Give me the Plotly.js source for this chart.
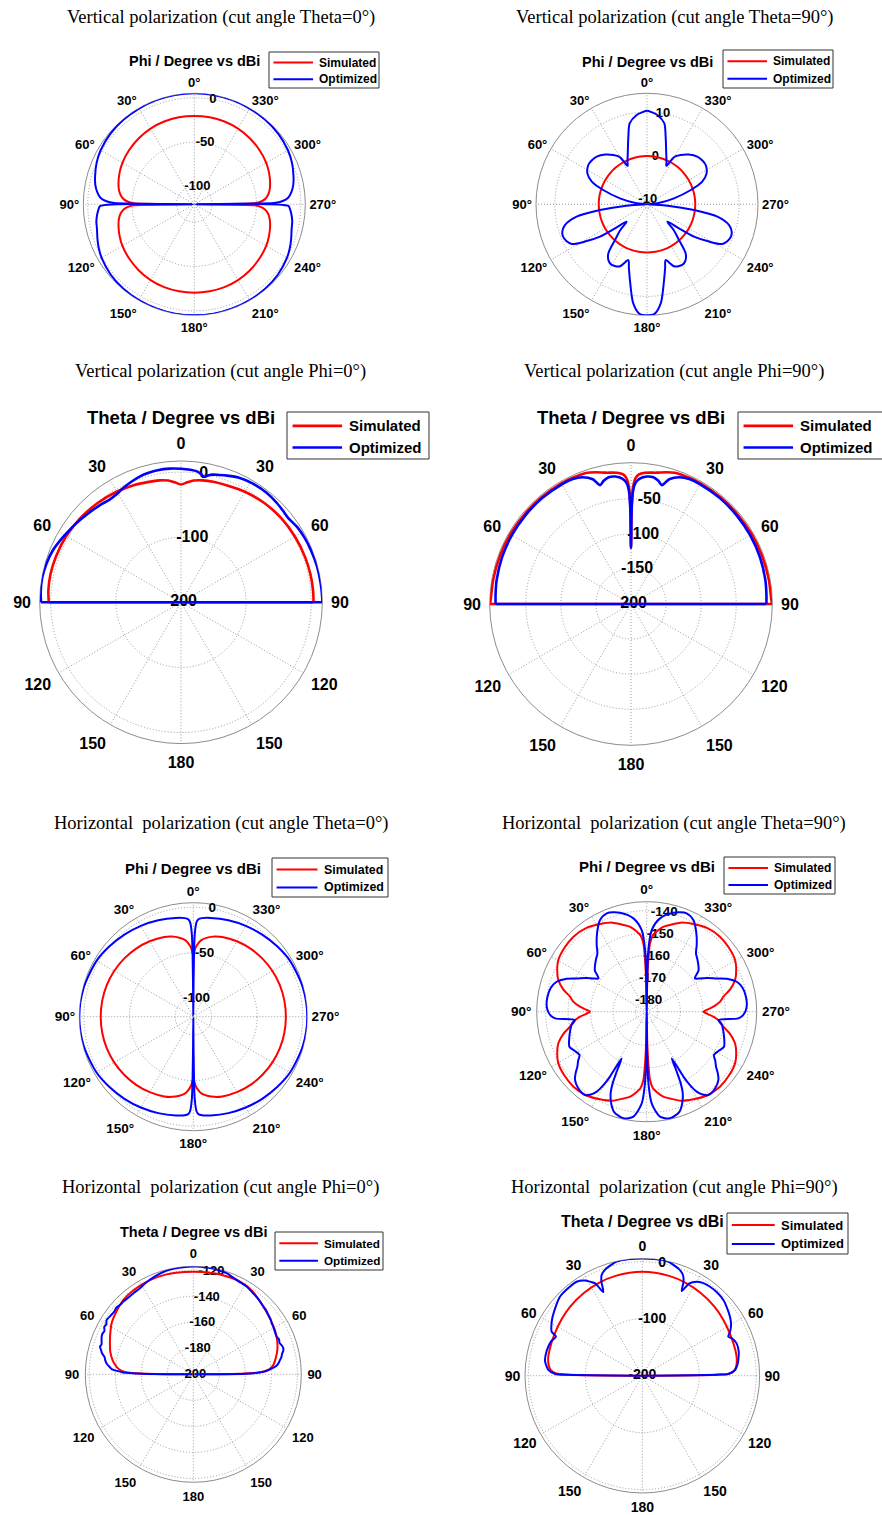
<!DOCTYPE html>
<html>
<head>
<meta charset="utf-8">
<script src="https://cdn.plot.ly/plotly-3.0.1.min.js"></script>
<style>
  html, body { margin: 0; padding: 0; background: #ffffff; }
  #chart { width: 882px; height: 1515px; }
</style>
</head>
<body>
<div id="chart"></div>
<script>
// ---------- angular tick labels ----------
const angleTicks = [0, 30, 60, 90, 120, 150, 180, 210, 240, 270, 300, 330];
const phiLabels = ['0°', '30°', '60°', '90°', '120°', '150°', '180°', '210°', '240°', '270°', '300°', '330°'];
const thetaLabels = ['0', '30', '60', '90', '120', '150', '180', '150', '120', '90', '60', '30'];

// ---------- series names ----------
const seriesNames = ['Simulated', 'Optimized'];

// ---------- radial tick values ----------
const p1Ticks = [-100, -50, 0];
const p2Ticks = [-10, 0, 10];
const p3Ticks = [-200, -100, 0];
const p4Ticks = [-200, -150, -100, -50];
const p5Ticks = [-100, -50, 0];
const p6Ticks = [-180, -170, -160, -150, -140];
const p7Ticks = [-200, -180, -160, -140, -120];
const p8Ticks = [-200, -100, 0];

// ---------- Vertical polarization, Theta = 0° cut (phi sweep) ----------
const p1SimPhi = [0,10,20,30,40,50,60,67,74,79,83,86,88,89,90,91,92,94,97,101,106,113,120,130,140,150,160,170,180,190,200,210,220,230,240,247,254,259,263,266,268,269,270,271,272,274,277,281,286,293,300,310,320,330,340,350,360];
const p1SimDb = [-20.5,-20.5,-20.8,-21.5,-22.8,-24.5,-26.5,-28.6,-31.2,-33.5,-36.5,-40.5,-46,-52,-118,-52,-46,-40.5,-36.5,-33.5,-31.2,-28.6,-26.5,-24.5,-22.8,-21.5,-20.8,-20.5,-20.5,-20.5,-20.8,-21.5,-22.8,-24.5,-26.5,-28.6,-31.2,-33.5,-36.5,-40.5,-46,-52,-118,-52,-46,-40.5,-36.5,-33.5,-31.2,-28.6,-26.5,-24.5,-22.8,-21.5,-20.8,-20.5,-20.5];
const p1OptPhi = [0,10,20,30,40,50,60,67,74,79,83,86,88,89,90,91,93,96,100,104,110,115,120,130,140,150,160,170,180,190,200,210,220,230,240,245,250,256,260,264,267,269,270,271,272,274,277,281,286,293,300,310,320,330,340,350,360];
const p1OptDb = [5,5,4.8,4.5,4.2,3.5,1.8,-0.5,-3.8,-6.5,-10,-14,-21,-30,-118,-14,-12,-10,-8,-7,-4,-1.5,0.5,3,4.2,4.6,4.8,5,5,5,4.8,4.6,4.2,3,0.5,-1.5,-4,-7,-8,-10,-12,-14,-118,-30,-21,-14,-10,-6.5,-3.8,-0.5,1.8,3.5,4.2,4.5,4.8,5,5];

// ---------- Vertical polarization, Theta = 90° cut (phi sweep) ----------
const p2SimPhi = [0,10,20,30,40,50,60,70,80,90,100,110,120,130,140,150,160,170,180,190,200,210,220,230,240,250,260,270,280,290,300,310,320,330,340,350,360];
const p2SimDb = [0,0,0,0,0,0,0,0,0,0,0,0,0,0,0,0,0,0,0,0,0,0,0,0,0,0,0,0,0,0,0,0,0,0,0,0,0];
const p2OptPhi = [0,3,6.6,12,15.4,20.7,25,26.7,30,34.3,40,46.5,52,56.2,62.6,67.7,71.9,77.5,84.5,90,93.8,96.9,99.9,104.2,108,111.1,114.5,117.8,121,124.5,126.9,130.4,134,138.1,141.7,145.5,149.8,156.4,161.5,164,167.3,172.1,176.3,180,
  183.7,187.9,192.7,196,198.5,203.6,210.2,214.5,218.3,221.9,226,229.6,233.1,235.5,239,242.2,245.5,248.9,252,255.8,260.1,263.1,266.2,270,275.5,282.5,288.1,292.3,297.4,303.8,308,313.5,320,325.7,330,333.3,335,339.3,344.6,348,353.4,357,360];
const p2OptDb = [10.3,10,9.5,7.9,5,1.4,-0.5,-1.2,1.5,2.6,3.8,4.8,5.1,5.1,4.3,2.6,-0.5,-4.7,-8.6,-11,-6.3,-0.2,5.3,8.3,9.3,9.5,9.2,8.4,5.5,2,-1.9,-4.9,-2.5,-0.1,3.2,4.5,5,4.4,2.4,4,6.7,11.8,14.1,14.3,
  14.1,11.8,6.7,4,2.4,4.4,5,4.5,3.2,-0.1,-2.5,-4.9,-1.9,2,5.5,8.4,9.2,9.5,9.3,8.3,5.3,-0.2,-6.3,-11,-8.6,-4.7,-0.5,2.6,4.3,5.1,5.1,4.8,3.8,2.6,1.5,-1.2,-0.5,1.4,5,7.9,9.5,10,10.3];

// ---------- Vertical polarization, Phi = 0° cut (theta sweep) ----------
const p3SimTheta = [-90,-85,-78,-70,-60,-50,-40,-30,-22,-15,-10,-6,-3,0,3,6,10,15,22,30,40,50,60,70,78,85,90];
const p3SimDb = [3,4.5,5,4.5,3.5,1.5,-1,-3.5,-6,-8.5,-9.8,-12,-15.5,-19,-15.5,-12,-9.8,-8.5,-7,-4,-1,1,2,2.8,3.4,3.6,3.6];
const p3OptTheta = [-90,-86,-80,-74,-68,-63,-59,-53,-47,-40,-35,-31,-27,-22,-18,-14,-10,-5,0,4,7,9,10.5,12,14,16,20,25,31,38,44,48,52,57,62,68,75,82,88,90];
const p3OptDb = [15,16,16.5,15,12.4,8.5,5.4,1.5,-2.3,-5.5,-8,-7,-3.4,0.5,3.4,5,6,6,5,4,2.5,-1,-4,-1,2,3.5,7,11,13,13.4,12,10.5,9.5,12.5,14,15,16,16.5,17,17];

// ---------- Vertical polarization, Phi = 90° cut (theta sweep) ----------
const p4SimTheta = [-90,-88,-80,-70,-60,-50,-40,-30,-25,-19,-15,-11,-6,-3.5,-2,-1,-0.4,0,0.4,1,2,3.5,6,11,15,19,25,30,40,50,60,70,80,88,90];
const p4SimDb = [1,0,-0.5,-1,-1.2,-1.5,-1.5,-1.5,-1.8,-2.5,-5.5,-9.3,-12,-15,-21,-33,-60,-120,-60,-33,-21,-15,-12,-9.3,-5.5,-2.5,-1.8,-1.5,-1.5,-1.5,-1.2,-1,-0.5,0,1];
const p4OptTheta = [-90,-86,-80,-70,-60,-50,-40,-30,-25,-21,-17,-14.5,-12.5,-10,-7,-4,-2,-1,-0.4,0,0.4,1,2,4,7,10,12.5,14.5,17,21,25,30,40,50,60,70,80,86,90];
const p4OptDb = [-7,-6.5,-5.5,-4.5,-4,-3.5,-3,-3,-3.5,-6.5,-14,-25,-20,-16.5,-17,-21,-28,-40,-65,-120,-65,-40,-28,-21,-17,-16.5,-20,-25,-14,-6.5,-3.5,-3,-3,-3.5,-4,-4.5,-5.5,-6.5,-7];

// ---------- Horizontal polarization, Theta = 0° cut (phi sweep) ----------
const p5SimPhi = [0,1,2,4,6,10,15,20,30,40,50,60,70,80,90,100,110,120,130,140,150,160,165,170,174,176,178,179,180,181,182,184,186,190,195,200,210,220,230,240,250,260,270,280,290,300,310,320,330,340,345,350,354,356,358,359,360];
const p5SimDb = [-52,-48,-44,-39,-35.5,-32,-29,-27,-24.5,-22.5,-21,-19.8,-19,-18.6,-18.5,-18.6,-19,-19.8,-21,-22.5,-24.5,-27,-29,-32,-35.5,-39,-44,-48,-52,-48,-44,-39,-35.5,-32,-29,-27,-24.5,-22.5,-21,-19.8,-19,-18.6,-18.5,-18.6,-19,-19.8,-21,-22.5,-24.5,-27,-29,-32,-35.5,-39,-44,-48,-52];
const p5OptPhi = [0,0.5,1,2,3,5,10,20,30,40,50,60,75,90,105,120,130,140,150,160,170,175,177,178,179,179.5,180,180.5,181,182,183,185,190,200,210,220,230,240,255,270,285,300,310,320,330,340,350,355,357,358,359,359.5,360];
const p5OptDb = [-118,-80,-30,-16,-13,-11.5,-10,-7.5,-5,-2.5,0,2.5,4.3,5,4.3,2.5,0,-2.5,-5,-7.5,-10,-11.5,-13,-16,-30,-80,-118,-80,-30,-16,-13,-11.5,-10,-7.5,-5,-2.5,0,2.5,4.3,5,4.3,2.5,0,-2.5,-5,-7.5,-10,-11.5,-13,-16,-30,-80,-118];

// ---------- Horizontal polarization, Theta = 90° cut (phi sweep) ----------
const p6SimPhi = [0,1,1.8,2.8,4.5,7.1,11,15,21,28,36,44.3,52,59.7,65,70.3,75,78.9,82.2,85.7,88,90,92,94.3,97.8,101.1,105,109.7,115,120.3,128,135.7,144,152,159,165,169,172.9,175.5,177.2,178.2,179,180,
  181,181.8,182.8,184.5,187.1,191,195,201,208,216,224.3,232,239.7,245,250.3,255,258.9,262.2,265.7,268,270,272,274.3,277.8,281.1,285,289.7,295,300.3,308,315.7,324,332,339,345,349,352.9,355.5,357.2,358.2,359,360];
const p6SimDb = [-185,-172,-162,-154.5,-151,-149,-146.5,-145,-142.5,-140.8,-139,-138.3,-138.6,-139.4,-141,-143.2,-146.5,-150.2,-152,-155.2,-158,-159.7,-158,-155.2,-152,-150.2,-146.5,-143.2,-141,-139.4,-138.6,-138.3,-139,-140.8,-142.5,-145,-146.5,-149,-151,-154.5,-162,-172,-185,
  -172,-162,-154.5,-151,-149,-146.5,-145,-142.5,-140.8,-139,-138.3,-138.6,-139.4,-141,-143.2,-146.5,-150.2,-152,-155.2,-158,-159.7,-158,-155.2,-152,-150.2,-146.5,-143.2,-141,-139.4,-138.6,-138.3,-139,-140.8,-142.5,-145,-146.5,-149,-151,-154.5,-162,-172,-185];
const p6OptPhi = [0,0.8,1.5,3.5,8.1,15.1,22.1,27,30.5,33.7,37,40.2,44,47.9,51.5,55.4,58,61,64.6,68,71.6,76,81.4,86,89,92,94.2,96.6,100,104.6,109,114.4,118.5,122.8,125.5,128.4,131,133.6,138,143.5,146,148,149.5,150.5,151.8,153.4,154.5,156.2,159,161.9,167.7,172.8,176.9,178.6,179.4,180,
  180.6,181.4,183.1,187.2,192.3,198.1,201,203.8,205.5,206.6,208.2,209.5,210.5,212,214,216.5,222,226.4,229,231.6,234.5,237.2,241.5,245.6,251,255.4,260,263.4,265.8,268,271,274,278.6,284,288.4,292,295.4,299,302,304.6,308.5,312.1,316,319.8,323,326.3,329.5,333,337.9,344.9,351.9,356.5,358.5,359.2,360];
const p6OptDb = [-185,-170,-157.5,-148.6,-143,-139.3,-137.7,-139.2,-142,-144.9,-148,-151,-152.5,-154,-155.5,-158.9,-157,-154,-150.5,-146,-142.7,-141,-140.3,-140.3,-140.8,-142,-144.1,-152.8,-151,-149.7,-148.5,-147.2,-148.5,-149.4,-147.5,-145.6,-143,-140.9,-139.3,-138.8,-140.5,-143,-147,-151.8,-161.4,-155.1,-150,-145.2,-141,-138.1,-136.4,-137.9,-144.1,-153,-165,-185,
  -165,-153,-144.1,-137.9,-136.4,-138.1,-141,-145.2,-150,-155.1,-161.4,-151.8,-147,-143,-140.5,-138.8,-139.3,-140.9,-143,-145.6,-147.5,-149.4,-148.5,-147.2,-148.5,-149.7,-151,-152.8,-144.1,-142,-140.8,-140.3,-140.3,-141,-142.7,-146,-150.5,-154,-157,-158.9,-155.5,-154,-152.5,-151,-148,-144.9,-142,-139.2,-137.7,-139.3,-143,-148.6,-157.5,-170,-185];

// ---------- Horizontal polarization, Phi = 0° cut (theta sweep) ----------
const p7SimTheta = [-90,-89.3,-88,-86,-83,-80,-75,-70,-64,-58,-50,-43,-35,-25,-15,-5,0,5,15,27,35,46,54,61.5,68,73.9,79,83.4,86.5,88.3,89.3,90];
const p7SimDb = [-199,-165,-147,-142.5,-139.5,-137,-134,-131.8,-129,-126,-123.5,-121.5,-120.7,-120.3,-120.5,-121,-121.1,-121,-120.6,-120.2,-121.5,-125.1,-127.2,-128.6,-130.5,-132.8,-135.5,-138.1,-142,-148.7,-165,-199];
const p7OptTheta = [-90,-89.3,-88.5,-87.9,-86.5,-85,-83,-81,-79,-77,-75,-73.5,-72,-70,-68,-66,-64,-62,-60,-58,-55,-52,-49,-46,-43.9,-40,-36,-31.8,-28,-24,-20,-14.3,-10,-5.3,0,4,10.5,14,18.2,22,26,31.3,36,41,46,49,52,55,56.9,59,62,65.6,68,70,72,73.9,75.5,77,79,80.6,82,84,86.3,88,89.3,90];
const p7OptDb = [-199,-160,-146,-143.6,-137.5,-135.5,-133,-131.5,-130.5,-128,-126.5,-125.2,-125.8,-125,-124,-123.5,-124,-122.5,-122.8,-121.4,-122,-122.5,-121.8,-122.6,-122.4,-122.8,-122.5,-122.2,-121,-119.8,-118.8,-117.8,-117.5,-117.3,-117.2,-117.1,-117.3,-117.8,-118.2,-119.5,-120.5,-121.1,-122.5,-123.6,-125.1,-125.6,-126.5,-127.2,-128.1,-128.5,-129.2,-129.7,-128.9,-129.5,-128.4,-128,-128.6,-130,-131,-132.4,-133.5,-135.5,-140.9,-146,-160,-199];

// ---------- Horizontal polarization, Phi = 90° cut (theta sweep) ----------
const p8SimTheta = [-90,-89.2,-88.5,-86.5,-84,-80,-75,-65,-55,-46,-35,-25,-15,0,15,25,35,46,55,65,75,80,84,86.5,88.5,89.2,90];
const p8SimDb = [-199,-70,-49,-39,-35,-32,-31,-29.5,-27,-24.5,-22,-20,-18.5,-17.5,-18.5,-20,-22,-24.5,-27,-29.5,-30.5,-31.5,-34,-37.5,-45,-70,-199];
const p8OptTheta = [-90,-89.2,-88.9,-86.5,-83,-80.8,-76,-72.9,-69,-65.7,-64.1,-60,-56.7,-51,-46.2,-40,-35,-31,-29.1,-27,-25,-23.5,-22,-19,-15,-12.7,-7,0,7,12.7,15,19,22,23.7,25,27,30,33,37.3,42,47,51,56,60,63.4,65.6,67.5,71.1,76,80.7,83.5,86.5,88.9,89.2,90];
const p8OptDb = [-199,-70,-47,-34.6,-29,-26.8,-26.5,-27.2,-29,-33.7,-23,-16,-11.5,-5,0.4,1.5,1.4,-5,-11,-18,-38,-20,-9.3,-2,3,5.3,6,6,6,5.3,3,-2,-9.3,-20,-36,-18,-9.3,-5.5,-3.6,-3.5,-5.2,-9,-14.4,-20,-27.7,-34.2,-29,-24.9,-25.5,-29.1,-32,-36.9,-49,-70,-199];

// ---------- page geometry and styling ----------
const W = 882, H = 1515;
const SANS = 'Liberation Sans, Arial, sans-serif';
const SERIF = 'Liberation Serif, Times New Roman, serif';
const COLORS = ['#ff0000', '#0000ff'];
const GRID = '#9a9a9a';

const panels = [
  { title: 'Vertical polarization (cut angle Theta=0°)', head: 'Phi / Degree vs dBi', kind: 'phi',
    cx: 194.3, cy: 204.3, R: 111, range: [-120, 5], ticks: p1Ticks,
    sim: [p1SimPhi, p1SimDb], opt: [p1OptPhi, p1OptDb],
    titleX: 221, titleY: 17, headY: 61, headSize: 14.5, tickSize: 13, tickPad: 1,
    leg: { x: 269, y: 52, w: 110, h: 36, size: 12 }, lw: 2 },
  { title: 'Vertical polarization (cut angle Theta=90°)', head: 'Phi / Degree vs dBi', kind: 'phi',
    cx: 647, cy: 204.3, R: 111, range: [-11, 14.3], ticks: p2Ticks,
    sim: [p2SimPhi, p2SimDb], opt: [p2OptPhi, p2OptDb],
    titleX: 674, titleY: 17, headY: 61.5, headSize: 14.5, tickSize: 13, tickPad: 1,
    leg: { x: 723, y: 50, w: 110, h: 38, size: 12 }, lw: 2 },
  { title: 'Vertical polarization (cut angle Phi=0°)', head: 'Theta / Degree vs dBi', kind: 'theta',
    cx: 181, cy: 602.3, R: 141.3, range: [-200, 17], ticks: p3Ticks,
    sim: [p3SimTheta, p3SimDb], opt: [p3OptTheta, p3OptDb], close: true,
    titleX: 221, titleY: 371, headY: 417, headSize: 18.5, tickSize: 16, tickPad: 5,
    leg: { x: 287, y: 412, w: 142, h: 47, size: 15 }, lw: 2.6 },
  { title: 'Vertical polarization (cut angle Phi=90°)', head: 'Theta / Degree vs dBi', kind: 'theta',
    cx: 631, cy: 604, R: 141.3, range: [-200, 1.4], ticks: p4Ticks,
    sim: [p4SimTheta, p4SimDb], opt: [p4OptTheta, p4OptDb], close: true,
    titleX: 674, titleY: 371, headY: 417, headSize: 18.5, tickSize: 16, tickPad: 5,
    leg: { x: 738, y: 412, w: 150, h: 47, size: 15 }, lw: 2.6 },
  { title: 'Horizontal\u00a0 polarization (cut angle Theta=0°)', head: 'Phi / Degree vs dBi', kind: 'phi',
    cx: 193.3, cy: 1016.7, R: 114, range: [-120, 5], ticks: p5Ticks,
    sim: [p5SimPhi, p5SimDb], opt: [p5OptPhi, p5OptDb],
    titleX: 221, titleY: 823, headY: 868, headSize: 15, tickSize: 13.5, tickPad: 1,
    leg: { x: 272, y: 858, w: 116, h: 39, size: 12.4 }, lw: 2 },
  { title: 'Horizontal\u00a0 polarization (cut angle Theta=90°)', head: 'Phi / Degree vs dBi', kind: 'phi',
    cx: 646.7, cy: 1011.7, R: 110, range: [-185, -136], ticks: p6Ticks,
    sim: [p6SimPhi, p6SimDb], opt: [p6OptPhi, p6OptDb],
    titleX: 674, titleY: 823, headY: 866.5, headSize: 15, tickSize: 13.5, tickPad: 2,
    leg: { x: 724, y: 857, w: 111, h: 37, size: 12 }, lw: 2 },
  { title: 'Horizontal\u00a0 polarization (cut angle Phi=0°)', head: 'Theta / Degree vs dBi', kind: 'theta',
    cx: 193.3, cy: 1374.3, R: 108, range: [-200, -117], ticks: p7Ticks,
    sim: [p7SimTheta, p7SimDb], opt: [p7OptTheta, p7OptDb],
    titleX: 221, titleY: 1187, headY: 1231.5, headSize: 14.5, tickSize: 13, tickPad: 3,
    leg: { x: 275, y: 1232, w: 108, h: 38, size: 11.7 }, lw: 2 },
  { title: 'Horizontal\u00a0 polarization (cut angle Phi=90°)', head: 'Theta / Degree vs dBi', kind: 'theta',
    cx: 642.3, cy: 1375.7, R: 117.3, range: [-200, 6], ticks: p8Ticks,
    sim: [p8SimTheta, p8SimDb], opt: [p8OptTheta, p8OptDb],
    titleX: 674, titleY: 1187, headY: 1221.5, headSize: 16, tickSize: 14, tickPad: 1.5,
    leg: { x: 727, y: 1213, w: 121, h: 41, size: 13 }, lw: 2 }
];

const traces = [];
const layout = {
  width: W, height: H,
  margin: { l: 0, r: 0, t: 0, b: 0 },
  paper_bgcolor: '#ffffff',
  plot_bgcolor: '#ffffff',
  showlegend: false,
  annotations: [],
  shapes: [],
  dragmode: false
};

const px = (x) => x / W;
const py = (y) => 1 - y / H;
const boldFont = (size) => ({ family: SANS, size: size, color: '#000000', weight: 'bold' });

panels.forEach((p, i) => {
  const n = i + 1;
  const polarId = n === 1 ? 'polar' : 'polar' + n;
  const isPhi = p.kind === 'phi';

  layout[polarId] = {
    domain: { x: [px(p.cx - p.R), px(p.cx + p.R)], y: [py(p.cy + p.R), py(p.cy - p.R)] },
    bgcolor: '#ffffff',
    angularaxis: {
      rotation: 90,
      direction: isPhi ? 'counterclockwise' : 'clockwise',
      tickmode: 'array',
      tickvals: angleTicks,
      ticktext: isPhi ? phiLabels : thetaLabels,
      tickfont: boldFont(p.tickSize),
      ticks: 'outside', ticklen: p.tickPad, tickcolor: 'rgba(0,0,0,0)',
      showline: true, linecolor: '#8c8c8c', linewidth: 1,
      showgrid: true, gridcolor: GRID, gridwidth: 1, griddash: '1px,2px',
      layer: 'below traces'
    },
    radialaxis: {
      range: p.range,
      tickmode: 'array',
      tickvals: p.ticks,
      showticklabels: false,
      ticks: '',
      showline: false,
      showgrid: true, gridcolor: GRID, gridwidth: 1, griddash: '1px,2px',
      angle: 90,
      layer: 'below traces'
    }
  };

  // radial level labels, set just right of the 0° spoke
  traces.push({
    type: 'scatterpolar', subplot: polarId, mode: 'text',
    r: p.ticks, theta: p.ticks.map(() => (isPhi ? -10 : 10)),
    text: p.ticks.map(String),
    textfont: boldFont(p.tickSize), textposition: 'middle center',
    cliponaxis: false, showlegend: false, hoverinfo: 'skip'
  });

  [p.sim, p.opt].forEach((d, k) => {
    const th = d[0], rv = d[1];
    traces.push({
      type: 'scatterpolar', subplot: polarId, mode: 'lines',
      name: seriesNames[k], showlegend: false,
      theta: th, r: rv,
      line: { color: COLORS[k], width: p.lw, shape: 'spline', smoothing: 0.8 },
      cliponaxis: false, hoverinfo: 'skip'
    });
    if (p.close) {
      // straight chord joining the two 90° ends of the theta sweep
      traces.push({
        type: 'scatterpolar', subplot: polarId, mode: 'lines',
        name: seriesNames[k], showlegend: false,
        theta: [th[th.length - 1], th[0]], r: [rv[rv.length - 1], rv[0]],
        line: { color: COLORS[k], width: p.lw },
        cliponaxis: false, hoverinfo: 'skip'
      });
    }
  });

  // boxed key in the upper right of each panel
  const L = p.leg, fs = L.size;
  layout.shapes.push({
    type: 'rect', xref: 'paper', yref: 'paper', layer: 'above',
    x0: px(L.x), x1: px(L.x + L.w), y0: py(L.y + L.h), y1: py(L.y),
    line: { color: '#333333', width: 1 }, fillcolor: '#ffffff'
  });
  seriesNames.forEach((name, k) => {
    const rowY = L.y + L.h * (k === 0 ? 0.295 : 0.755);
    const s0 = L.x + 0.37 * fs, s1 = s0 + 3.3 * fs;
    layout.shapes.push({
      type: 'line', xref: 'paper', yref: 'paper', layer: 'above',
      x0: px(s0), x1: px(s1), y0: py(rowY), y1: py(rowY),
      line: { color: COLORS[k], width: p.lw }
    });
    layout.annotations.push({
      xref: 'paper', yref: 'paper', x: px(s1 + 0.35 * fs), y: py(rowY),
      xanchor: 'left', yanchor: 'middle', showarrow: false,
      text: name, font: boldFont(fs)
    });
  });

  layout.annotations.push({
    xref: 'paper', yref: 'paper', x: px(p.titleX), y: py(p.titleY),
    xanchor: 'center', yanchor: 'middle', showarrow: false,
    text: p.title, font: { family: SERIF, size: 18.5, color: '#000000' }
  });
  layout.annotations.push({
    xref: 'paper', yref: 'paper', x: px(p.cx), y: py(p.headY),
    xanchor: 'center', yanchor: 'middle', showarrow: false,
    text: p.head, font: boldFont(p.headSize)
  });
});

Plotly.newPlot('chart', traces, layout, { staticPlot: true, displayModeBar: false });
</script>
</body>
</html>
